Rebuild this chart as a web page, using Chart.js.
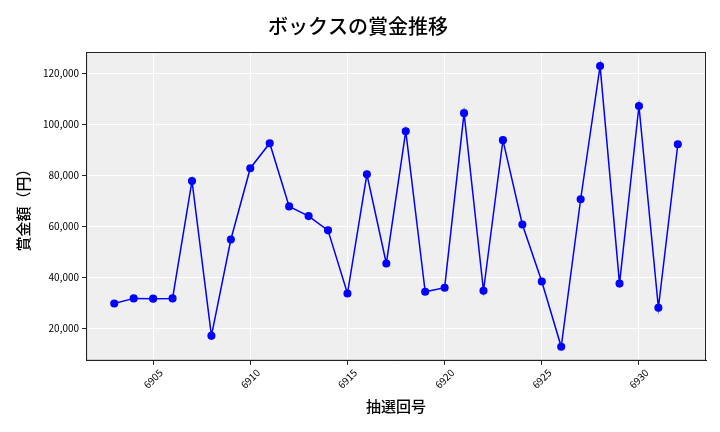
<!DOCTYPE html>
<html><head><meta charset="utf-8">
<script src="https://cdn.jsdelivr.net/npm/chart.js@4.4.0/dist/chart.umd.min.js"></script>
<style>html,body{margin:0;padding:0;background:#fff}#wrap{width:720px;height:432px}</style>
</head><body><div id="wrap"><canvas id="c" width="720" height="432"></canvas></div>
<script>
const draws = [6903,6904,6905,6906,6907,6908,6909,6910,6911,6912,6913,6914,6915,6916,6917,6918,6919,6920,6921,6922,6923,6924,6925,6926,6927,6928,6929,6930,6931,6932];
const prizes = [29800,31800,31700,31800,77900,17100,54900,82900,92700,67900,64100,58500,33700,80500,45500,97400,34400,36000,104500,34800,93900,60800,38400,12800,70700,123000,37600,107300,28100,92300];
const xTicks = [6905,6910,6915,6920,6925,6930];
const yTicks = [20000,40000,60000,80000,100000,120000];
const titleText = 'ボックスの賞金推移';
const xTitle = '抽選回号';
const yTitle = '賞金額（円）';
const FONT = "'Noto Sans CJK JP', 'DejaVu Sans', sans-serif";

const bgPlugin = {
  id: 'bg',
  beforeDraw(chart) {
    const {ctx, chartArea: a} = chart;
    ctx.save();
    ctx.fillStyle = '#efefef';
    ctx.fillRect(a.left, a.top, a.right - a.left, a.bottom - a.top);
    ctx.restore();
  },
  afterDraw(chart) {
    const {ctx, chartArea: a} = chart;
    ctx.save();
    ctx.strokeStyle = '#222';
    ctx.lineWidth = 1;
    ctx.strokeRect(a.left + 0.5, a.top + 0.5, a.right - a.left - 1, a.bottom - a.top - 1);
    // centered rotated x tick labels (matplotlib style)
    const xs = chart.scales.x;
    ctx.fillStyle = '#000';
    ctx.font = '10px ' + FONT;
    ctx.textAlign = 'center';
    ctx.textBaseline = 'middle';
    xs.ticks.forEach(t => {
      const px = xs.getPixelForValue(t.value);
      ctx.save();
      ctx.translate(px, a.bottom + 18);
      ctx.rotate(-Math.PI / 4);
      ctx.fillText(String(t.value), 0, 0);
      ctx.restore();
    });
    ctx.restore();
  }
};

new Chart(document.getElementById('c'), {
  type: 'line',
  data: {
    datasets: [{
      data: draws.map((d, i) => ({x: d, y: prizes[i]})),
      borderColor: '#0000ff',
      backgroundColor: '#0000ff',
      borderWidth: 1.5,
      pointRadius: 3.3,
      pointHoverRadius: 3.3,
      tension: 0,
      fill: false
    }]
  },
  options: {
    responsive: false,
    animation: false,
    devicePixelRatio: 1,
    layout: {padding: {left: 10, right: 14, top: 4, bottom: 13}},
    plugins: {
      legend: {display: false},
      tooltip: {enabled: false},
      title: {
        display: true, text: titleText, color: '#000',
        font: {family: FONT, size: 20, weight: 500},
        padding: {top: 10, bottom: 14}
      }
    },
    scales: {
      x: {
        type: 'linear', min: 6901.55, max: 6933.45,
        afterBuildTicks(s) { s.ticks = xTicks.map(v => ({value: v})); },
        ticks: {
          color: 'rgba(0,0,0,0)', font: {family: FONT, size: 10},
          maxRotation: 45, minRotation: 45, padding: 2,
          callback: v => String(v)
        },
        grid: {color: '#ffffff', lineWidth: 1, tickLength: 4, tickColor: '#222', drawTicks: true},
        border: {display: true, color: '#222'},
        title: {display: true, text: xTitle, color: '#000', font: {family: FONT, size: 15, weight: 500}, padding: {top: 4}}
      },
      y: {
        type: 'linear', min: 7300, max: 128500,
        afterBuildTicks(s) { s.ticks = yTicks.map(v => ({value: v})); },
        ticks: {
          color: '#000', font: {family: FONT, size: 10}, padding: 3,
          callback: v => v.toLocaleString('en-US')
        },
        grid: {color: '#ffffff', lineWidth: 1, tickLength: 4, tickColor: '#222', drawTicks: true},
        border: {display: true, color: '#222'},
        title: {display: true, text: yTitle, color: '#000', font: {family: FONT, size: 15, weight: 500}, padding: {bottom: 8}}
      }
    }
  },
  plugins: [bgPlugin]
});
</script></body></html>
